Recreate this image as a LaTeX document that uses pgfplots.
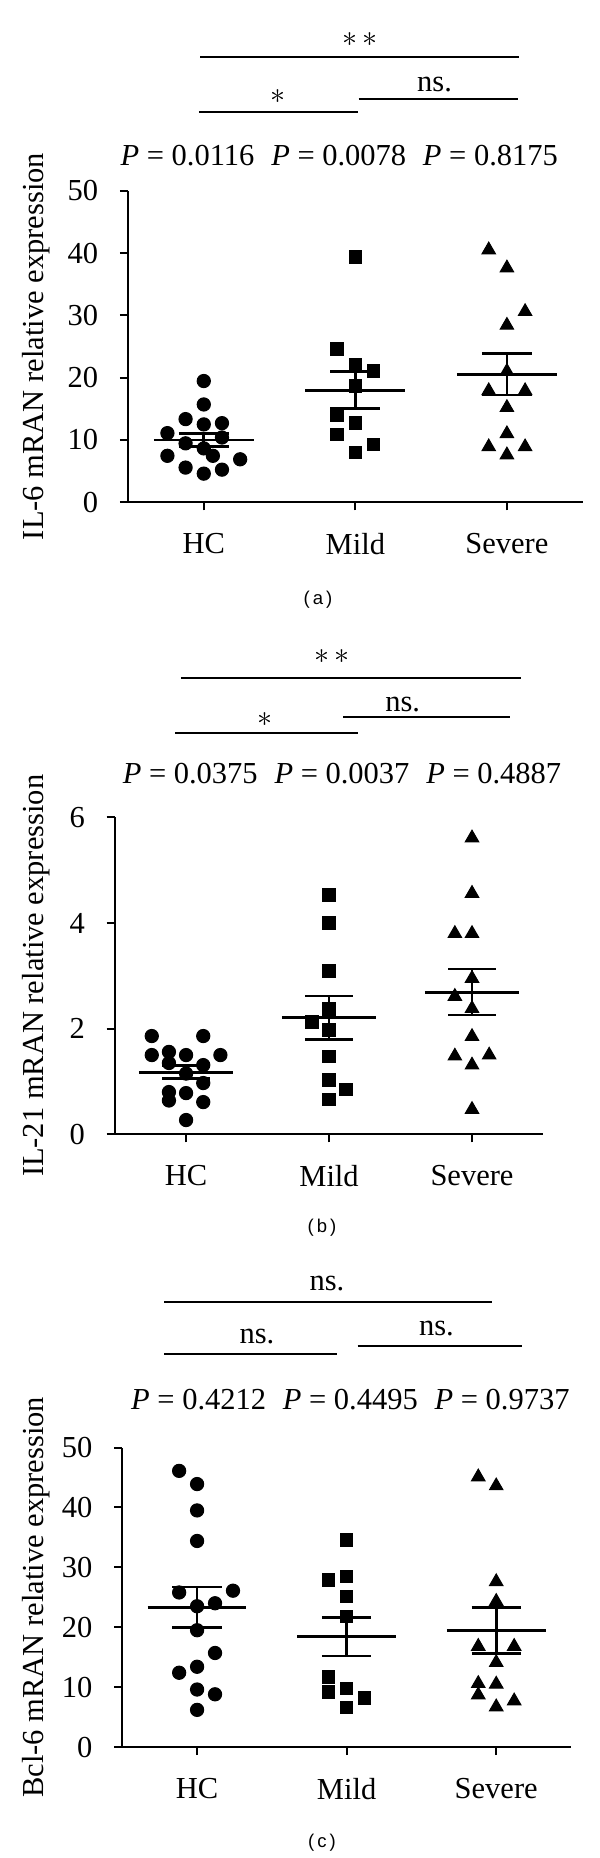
\documentclass[border=0pt]{standalone}
\usepackage{pgfplots}
\pgfplotsset{compat=1.18}
\usepackage{fontspec}
\setmainfont{Liberation Serif}
\newfontfamily\labfont{Liberation Sans}
\newcommand{\mainsize}{\fontsize{12.2}{14}\selectfont}

\pgfplotsset{
  dotplot/.style={
    scale only axis, clip=false,
    axis lines=left, axis line style={-, line width=0.8pt},
    xmin=0.5, xmax=3.5,
    xtick={1,2,3}, xticklabels={HC,Mild,Severe},
    tick align=outside, major tick length=3.2pt,
    tick style={line width=0.8pt, black},
    every tick label/.append style={font=\mainsize},
    /pgf/number format/assume math mode=true,
    yticklabel style={xshift=-5.2pt},
    xticklabel style={yshift=-5.7pt},
    ylabel style={font=\mainsize, anchor=center},
  },
  hc/.style={only marks, mark=*, mark size=2.65pt, black, mark options={fill=black}},
  mild/.style={only marks, mark=square*, mark size=2.5pt, black, mark options={fill=black}},
  sev/.style={only marks, mark=triangle*, mark size=3.1pt, black, mark options={fill=black}},
  meanbar/.style={black, line width=1.1pt, unbounded coords=jump, mark=none},
}

\begin{document}
\begin{tikzpicture}
\path[use as bounding box] (0,0) rectangle (240pt,-743.2pt);

% (a) IL-6
\begin{axis}[dotplot, at={(51.2pt,-200.92pt)}, anchor=south west,
  width=181.88pt, height=124.64pt,
  ymin=0, ymax=50, ytick={0,10,20,30,40,50},
  ylabel={IL-6 mRAN relative expression},
  ylabel style={at={(axis description cs:-0.202,0.5)}}]
\addplot[hc] coordinates {(0.76,11.1) (0.76,7.46) (0.88,13.35) (0.88,9.46) (0.88,5.57)
  (1,19.46) (1,15.7) (1,12.5) (1,8.65) (1,4.6) (1.06,7.46)
  (1.12,12.7) (1.12,10.4) (1.12,5.24) (1.24,6.9)};
\addplot[mild] coordinates {(2,39.4) (2,22.0) (2,18.7) (2,12.7) (2,8.0)
  (1.88,24.6) (1.88,13.9) (1.88,10.9) (2.12,21.1) (2.12,9.3)};
\addplot[sev] coordinates {(2.88,40.5) (3,37.6) (3.12,30.6) (3,28.4) (3,21.0) (2.88,17.9)
  (3.12,17.9) (3,15.2) (3,11.0) (2.88,8.9) (3.12,8.9) (3,7.6)};
\addplot[meanbar] coordinates {(0.67,10.0) (1.33,10.0) (1,nan) (0.835,11.1) (1.165,11.1) (1,nan)
  (0.835,9.0) (1.165,9.0) (1,nan) (1,9.0) (1,11.1)};
\addplot[meanbar] coordinates {(1.67,18.0) (2.33,18.0) (2,nan) (1.835,21.0) (2.165,21.0) (2,nan)
  (1.835,15.1) (2.165,15.1) (2,nan) (2,15.1) (2,21.0)};
\addplot[meanbar] coordinates {(2.67,20.5) (3.33,20.5) (3,nan) (2.835,23.9) (3.165,23.9) (3,nan)
  (2.835,17.2) (3.165,17.2) (3,nan) (3,17.2) (3,23.9)};
\end{axis}

% (b) IL-21
\begin{axis}[dotplot, at={(45.84pt,-453.72pt)}, anchor=south west,
  width=171.56pt, height=126.8pt,
  ymin=0, ymax=6, ytick={0,2,4,6},
  ylabel={IL-21 mRAN relative expression},
  ylabel style={at={(axis description cs:-0.183,0.5)}}]
\addplot[hc] coordinates {(0.76,1.86) (1.12,1.86) (0.76,1.50) (1,1.50) (1.24,1.50)
  (0.88,1.56) (0.88,1.35) (1.12,1.31) (1,1.15) (1.12,0.97) (0.88,0.80) (1,0.78)
  (0.88,0.64) (1.12,0.61) (1,0.27)};
\addplot[mild] coordinates {(2,4.53) (2,4.0) (2,3.09) (2,2.37) (1.88,2.13) (2,1.97)
  (2,1.47) (2,1.03) (2.12,0.85) (2,0.66)};
\addplot[sev] coordinates {(3,5.61) (3,4.56) (2.88,3.80) (3,3.80) (3,2.95) (2.88,2.61)
  (3,2.38) (3,1.85) (2.88,1.48) (3.12,1.50) (3,1.31) (3,0.47)};
\addplot[meanbar] coordinates {(0.67,1.17) (1.33,1.17) (1,nan) (0.835,1.30) (1.165,1.30) (1,nan)
  (0.835,1.05) (1.165,1.05) (1,nan) (1,1.05) (1,1.30)};
\addplot[meanbar] coordinates {(1.67,2.21) (2.33,2.21) (2,nan) (1.835,2.62) (2.165,2.62) (2,nan)
  (1.835,1.80) (2.165,1.80) (2,nan) (2,1.80) (2,2.62)};
\addplot[meanbar] coordinates {(2.67,2.69) (3.33,2.69) (3,nan) (2.835,3.13) (3.165,3.13) (3,nan)
  (2.835,2.26) (3.165,2.26) (3,nan) (3,2.26) (3,3.13)};
\end{axis}

% (c) Bcl-6
\begin{axis}[dotplot, at={(48.92pt,-698.8pt)}, anchor=south west,
  width=179.48pt, height=119.8pt,
  ymin=0, ymax=50, ytick={0,10,20,30,40,50},
  ylabel={Bcl-6 mRAN relative expression},
  ylabel style={at={(axis description cs:-0.192,0.5)}}]
\addplot[hc] coordinates {(0.88,46.1) (1,43.9) (1,39.5) (1,34.4) (0.88,25.8) (1.24,26.1)
  (1,23.5) (1.12,24.0) (1,19.5) (1.12,15.7) (1,13.4) (0.88,12.4) (1,9.6) (1.12,8.8) (1,6.2)};
\addplot[mild] coordinates {(2,34.6) (2,28.5) (1.88,27.9) (2,25.1) (2,21.8) (1.88,11.7)
  (1.88,9.2) (2,9.8) (2.12,8.2) (2,6.6)};
\addplot[sev] coordinates {(2.88,45.1) (3,43.6) (3,27.6) (3,24.3) (2.88,16.8) (3.12,16.8)
  (3,14.1) (2.88,10.6) (3,10.5) (2.88,8.7) (3.12,7.7) (3,6.7)};
\addplot[meanbar] coordinates {(0.67,23.3) (1.33,23.3) (1,nan) (0.835,26.7) (1.165,26.7) (1,nan)
  (0.835,20.0) (1.165,20.0) (1,nan) (1,20.0) (1,26.7)};
\addplot[meanbar] coordinates {(1.67,18.4) (2.33,18.4) (2,nan) (1.835,21.6) (2.165,21.6) (2,nan)
  (1.835,15.2) (2.165,15.2) (2,nan) (2,15.2) (2,21.6)};
\addplot[meanbar] coordinates {(2.67,19.4) (3.33,19.4) (3,nan) (2.835,23.3) (3.165,23.3) (3,nan)
  (2.835,15.6) (3.165,15.6) (3,nan) (3,15.6) (3,23.3)};
\end{axis}

% significance brackets, P values and panel letters
\begin{scope}[x=0.4pt, y=-0.4pt, line width=0.8pt]
\tikzset{every node/.style={inner sep=0pt, font=\mainsize}}
% (a)
\draw (200,57.3) -- (518.5,57.3);
\node at (359.6,40) {$\ast\,\ast$};
\draw (198.8,112) -- (357.7,112);
\node at (278,96.7) {$\ast$};
\draw (358.5,99.3) -- (517.7,99.3);
\node at (434.6,85) {ns.};
\node at (339.3,155.7) {\textit{P} = 0.0116\hspace{0.55em}\textit{P} = 0.0078\hspace{0.55em}\textit{P} = 0.8175};
\node[font=\labfont\fontsize{7.4}{9}\selectfont] at (318,600) {(\,a\,)};
% (b)
\draw (180.8,677.7) -- (521,677.7);
\node at (332,656.7) {$\ast\,\ast$};
\draw (175,733.3) -- (357.7,733.3);
\node at (265.4,720) {$\ast$};
\draw (343,717) -- (509.6,717);
\node at (402.7,705) {ns.};
\node at (342,773.3) {\textit{P} = 0.0375\hspace{0.55em}\textit{P} = 0.0037\hspace{0.55em}\textit{P} = 0.4887};
\node[font=\labfont\fontsize{7.4}{9}\selectfont] at (322,1228) {(\,b\,)};
% (c)
\draw (164.2,1302) -- (492.3,1302);
\node at (327,1283.3) {ns.};
\draw (164.2,1354) -- (337.3,1354);
\node at (257,1336.7) {ns.};
\draw (357.7,1346) -- (522.3,1346);
\node at (436.5,1328.3) {ns.};
\node at (350.4,1400) {\textit{P} = 0.4212\hspace{0.55em}\textit{P} = 0.4495\hspace{0.55em}\textit{P} = 0.9737};
\node[font=\labfont\fontsize{7.4}{9}\selectfont] at (322,1843) {(\,c\,)};
\end{scope}
\end{tikzpicture}
\end{document}
